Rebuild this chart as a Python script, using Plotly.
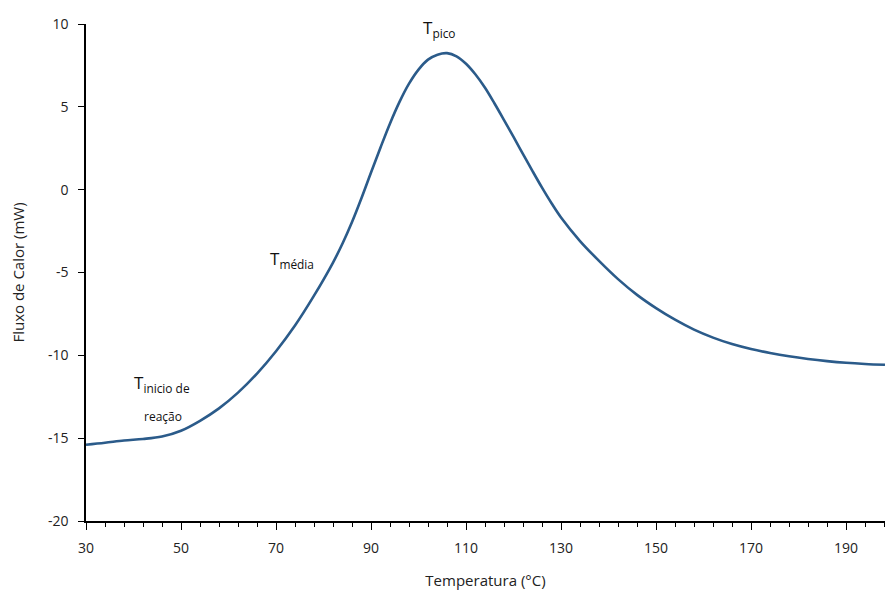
import plotly.graph_objects as go

temperatura = [30, 34, 38, 42, 46, 50, 54, 58, 62, 66, 70, 74, 78, 82, 84, 86, 88, 90,
               92, 94, 96, 98, 100, 102, 104, 106, 108, 110, 112, 114, 116, 118, 120,
               122, 124, 126, 128, 130, 134, 138, 142, 146, 150, 154,
               158, 162, 166, 170, 174, 178, 182, 186, 190, 194, 198.2]
fluxo = [-15.40, -15.28, -15.14, -15.05, -14.9, -14.55, -13.95, -13.2, -12.25, -11.1,
         -9.75, -8.2, -6.4, -4.4, -3.25, -1.95, -0.5, 1.04, 2.55, 4.0, 5.3, 6.4,
         7.25, 7.85, 8.15, 8.24, 8.05, 7.6, 6.95, 6.15, 5.2, 4.2, 3.18, 2.15, 1.12,
         0.12, -0.82, -1.68, -3.1, -4.3, -5.4, -6.35, -7.15, -7.85, -8.45, -8.93, -9.32,
         -9.62, -9.86, -10.06, -10.22, -10.35, -10.45, -10.52, -10.57]

x_ticks = [30, 50, 70, 90, 110, 130, 150, 170, 190]
y_ticks = [-20, -15, -10, -5, 0, 5, 10]
y_tick_labels = ["-20", "-15", "-10", "-5", "0", "5", "10"]

FONT = "Open Sans"

fig = go.Figure()
fig.add_trace(go.Scatter(x=temperatura, y=fluxo, mode="lines",
                         line=dict(color="#2b5b8a", width=2.6, shape="spline", smoothing=1.0),
                         showlegend=False, hoverinfo="skip"))

fig.update_xaxes(range=[30, 198.2], tickmode="array", tickvals=x_ticks,
                 ticks="outside", ticklen=7, tickwidth=1.2, tickcolor="black",
                 ticklabelstandoff=6,
                 minor=dict(dtick=4, tick0=30, ticks="outside", ticklen=4, tickwidth=1.2, tickcolor="black"),
                 showline=True, linecolor="black", linewidth=1.5, showgrid=False, zeroline=False,
                 tickfont=dict(family=FONT, size=14, color="#222"),
                 title=dict(text="Temperatura (°C)", font=dict(family=FONT, size=15, color="#222"), standoff=20))
fig.update_yaxes(range=[-20, 10], tickmode="array", tickvals=y_ticks, ticktext=y_tick_labels,
                 ticks="outside", ticklen=6, tickwidth=1.2, tickcolor="black",
                 ticklabelstandoff=7,
                 showline=True, linecolor="black", linewidth=1.5, showgrid=False, zeroline=False,
                 tickfont=dict(family=FONT, size=14, color="#222"),
                 title=dict(text="Fluxo de Calor (mW)", font=dict(family=FONT, size=15, color="#222"), standoff=20))

ann_font = dict(family=FONT, size=17, color="#111")
fig.add_annotation(x=104.5, y=9.75, text="T<sub>pico</sub>", showarrow=False, font=ann_font)
fig.add_annotation(x=73.3, y=-4.2, text="T<sub>média</sub>", showarrow=False, font=ann_font)
fig.add_annotation(x=46.0, y=-11.7, text="T<sub>inicio de</sub>", showarrow=False, font=ann_font)
fig.add_annotation(x=46.3, y=-13.7, text="reação", showarrow=False,
                   font=dict(family=FONT, size=12, color="#111"))

fig.update_layout(width=885, height=595, margin=dict(l=86, r=0, t=24, b=74),
                  plot_bgcolor="white", paper_bgcolor="white")

fig.write_html("out.html")
